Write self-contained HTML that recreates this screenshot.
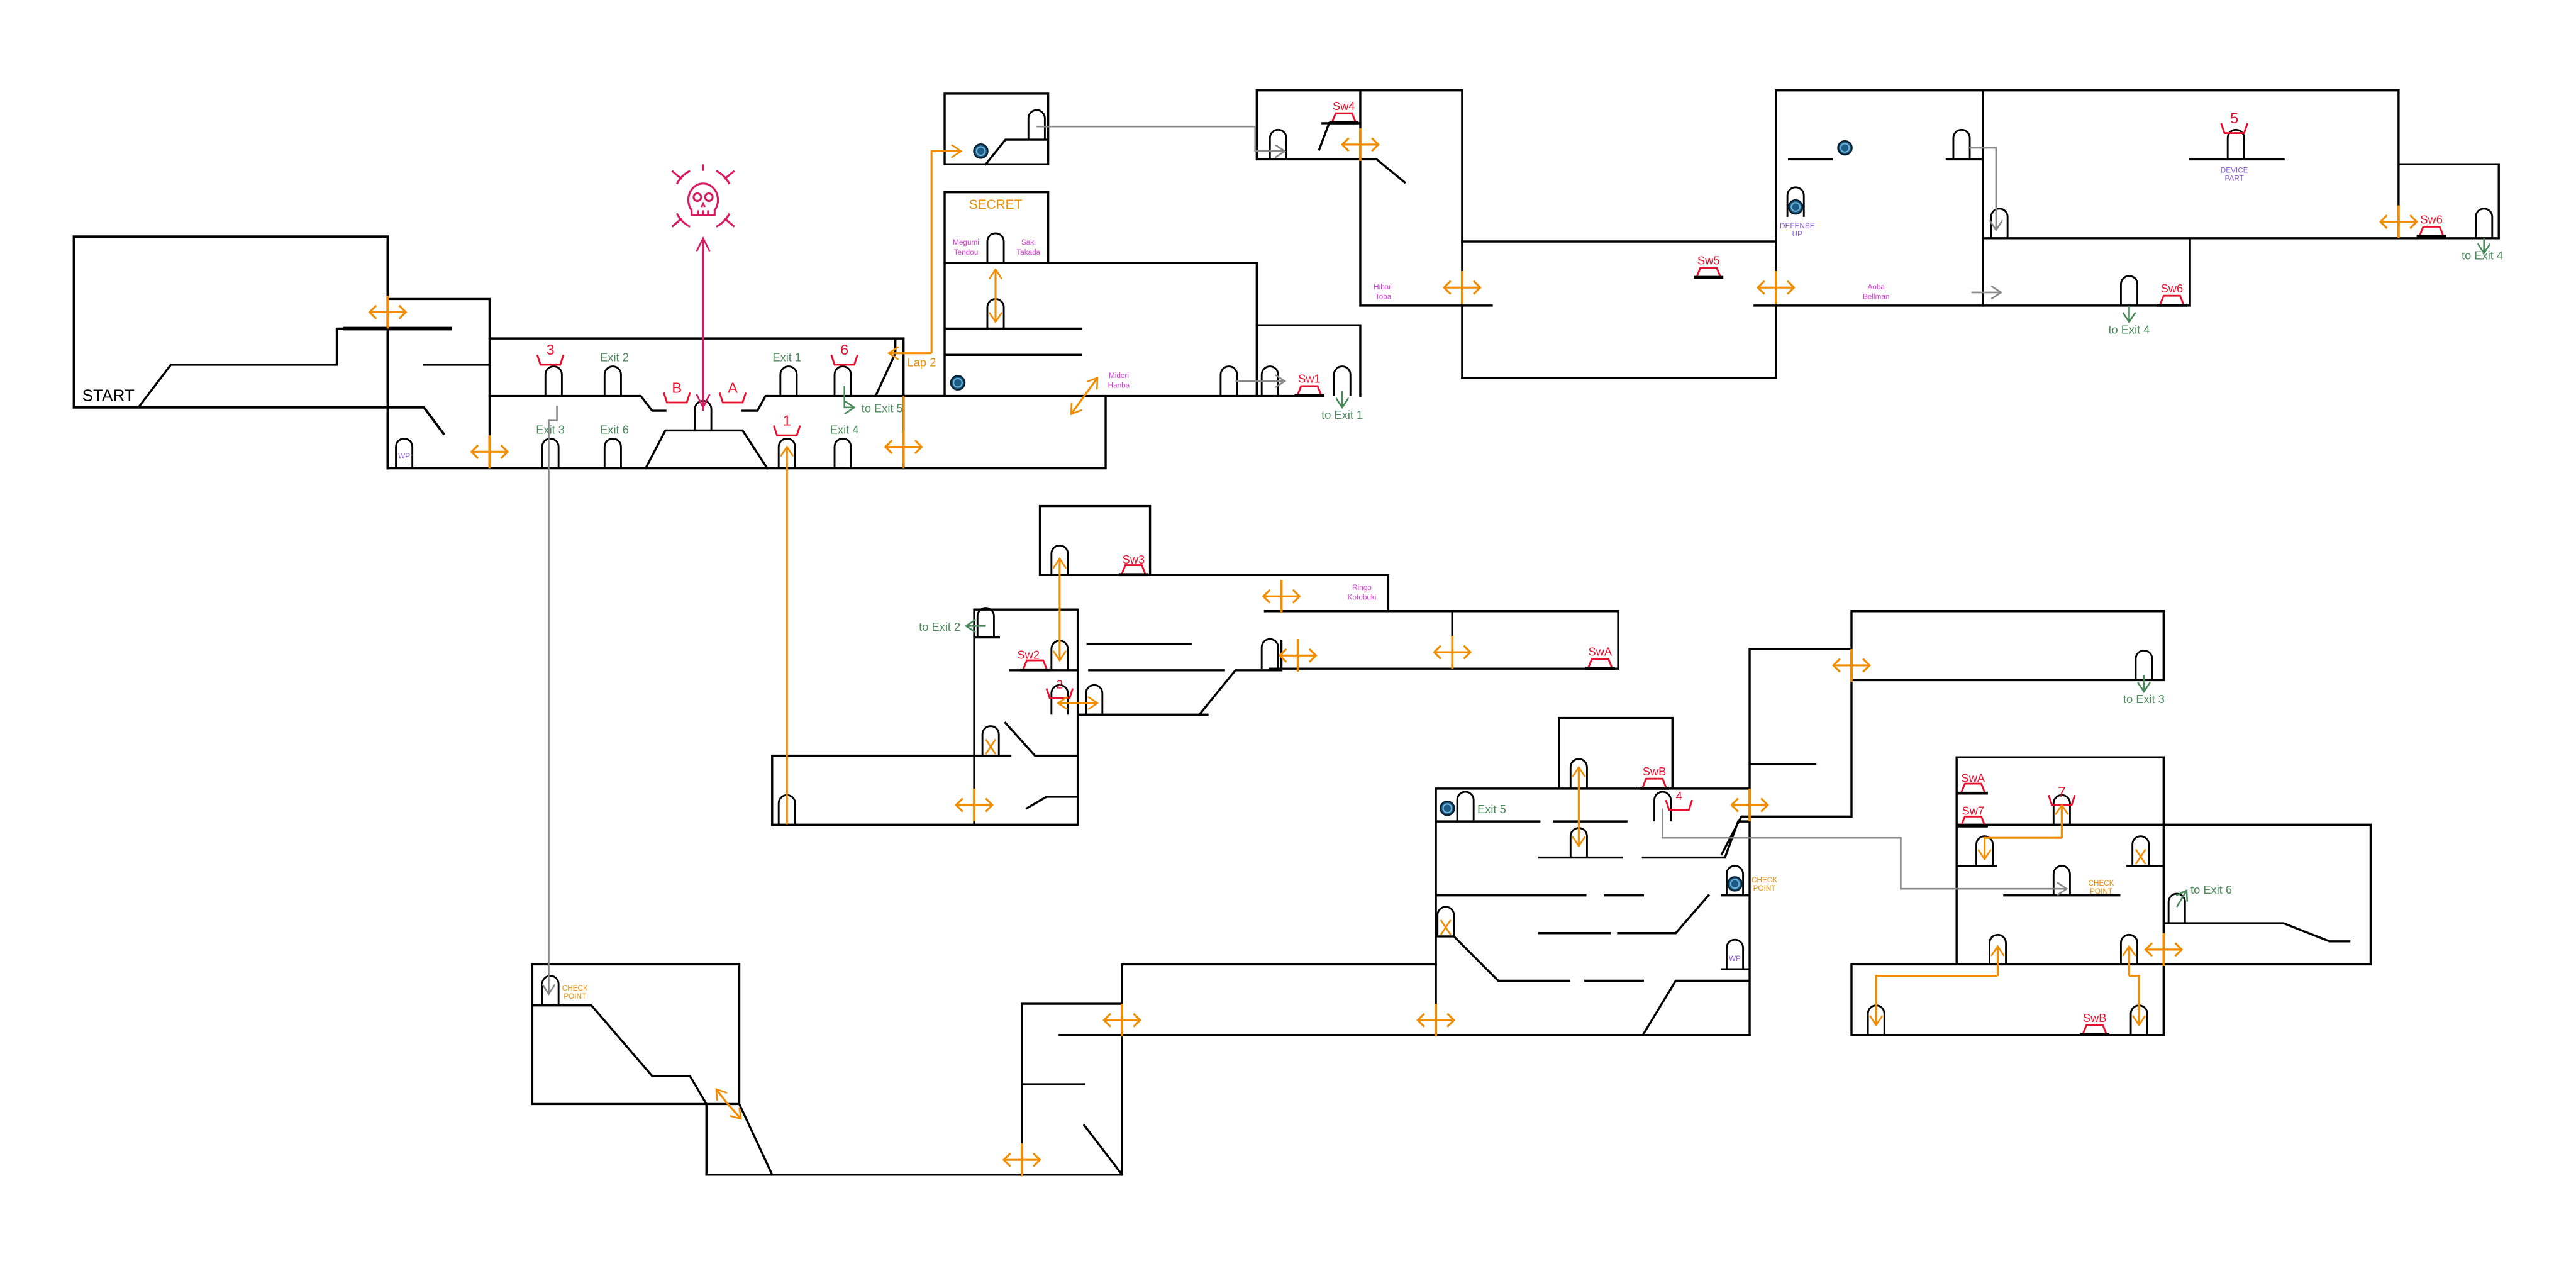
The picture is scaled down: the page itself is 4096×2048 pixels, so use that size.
<!DOCTYPE html>
<html><head><meta charset="utf-8"><style>
html,body{margin:0;padding:0;background:#fff;}
svg{display:block}
text{font-family:"Liberation Sans",sans-serif;}
</style></head><body>
<svg width="4096" height="2048" viewBox="0 0 1568 784" xmlns="http://www.w3.org/2000/svg">
<defs>
<symbol id="door" overflow="visible"><path d="M-5,0 V-13 A5,5 0 0 1 5,-13 V0" fill="none" stroke="#000" stroke-width="1.1"/></symbol>
<symbol id="sw" overflow="visible"><path d="M-7,0 L-5,-5 H5 L7,0" fill="none" stroke="#e8102e" stroke-width="1.1"/><path d="M-9,0.8 H9" stroke="#000" stroke-width="1.8"/></symbol>
<symbol id="br" overflow="visible"><path d="M-8,-7 L-6,-1 H6 L8,-7" fill="none" stroke="#e8102e" stroke-width="1.1"/></symbol>
<symbol id="orb" overflow="visible"><circle r="4.2" fill="#1d5c86" stroke="#0b2233" stroke-width="1"/><circle r="2.6" fill="none" stroke="#6fb3d9" stroke-width="0.8"/></symbol>
<symbol id="ha" overflow="visible"><path d="M-11,0 H11 M-7,-4 L-11,0 L-7,4 M7,-4 L11,0 L7,4" fill="none" stroke="#f28c00" stroke-width="1.2"/><path d="M0,-10 V10" stroke="#f28c00" stroke-width="1.4"/></symbol>
<marker id="ao" markerWidth="8" markerHeight="8" refX="6" refY="4" orient="auto" markerUnits="userSpaceOnUse"><path d="M0,0 L6,4 L0,8" fill="none" stroke="#f28c00" stroke-width="1"/></marker>
<marker id="ag" markerWidth="8" markerHeight="8" refX="6" refY="4" orient="auto" markerUnits="userSpaceOnUse"><path d="M0,0 L6,4 L0,8" fill="none" stroke="#888" stroke-width="1"/></marker>
<marker id="agr" markerWidth="8" markerHeight="8" refX="6" refY="4" orient="auto" markerUnits="userSpaceOnUse"><path d="M0,0 L6,4 L0,8" fill="none" stroke="#4a8a5a" stroke-width="1"/></marker>
<marker id="am" markerWidth="10" markerHeight="10" refX="8" refY="5" orient="auto" markerUnits="userSpaceOnUse"><path d="M0,1 L8,5 L0,9" fill="none" stroke="#d81b60" stroke-width="1"/></marker>
</defs>

<g fill="none" stroke="#000" stroke-width="1.3" stroke-linecap="square">
<path d="M45,144 H236 M45,144 V248 M45,248 H258 L270,264 M236,144 V285" stroke-width="1.5"/>
<path d="M85,247 L104,222 H205 V200 H274"/>
<path d="M210,200 H274" stroke-width="2.2"/>
<path d="M236,182 H298 V285 M236,285 H550 M258,222 H298"/>
<path d="M298,206 H550 V285 M298,241 H390 L397,250 H405 M452,250 H461 L466,241 H575 M545,206 V215 L533,241"/>
<path d="M393,285 L405,262 H452 L467,285"/>
<path d="M550,241 H805 M673,241 V285 M550,285 H673"/>
<path d="M575,160 V241 M575,160 H765 V241 M575,200 H658 M575,216 H658"/>
<path d="M575,117 H638 V160 M575,117 V160"/>
<path d="M575,57 H638 V100 H575 Z M600,100 L612,85 H638"/>
<path d="M765,198 H828 V241"/>
<path d="M765,55 H890 M765,55 V97 H838 L855,111 M805,75 H828 M803,91 L809,75 M828,55 V186 H908 M890,55 V230"/>
<path d="M890,147 H1081 M890,230 H1081 V55 H1207 V186 M1068,186 H1207 M1089,97 H1115 M1185,97 H1207"/>
<path d="M1207,55 H1460 V145 H1207 M1333,97 H1390 M1460,100 H1521 V145 H1460 M1333,145 V186 H1207"/>
<path d="M633,308 H700 V350 H633 Z M656,350 H845 V371 M770,372 H985 V407 H773 M884,372 V407 M662,392 H725 M663,408 H745 M730,435 L752,408 H780 V390"/>
<path d="M593,371 H656 M593,371 V502 M656,371 V502 M593,388 H608 M615,408 H656 M656,435 H735 M593,460 H615 M612,440 L630,460 H656 M625,492 L637,485 H656 M470,460 H593 M470,460 V502 H656"/>
<path d="M949,437 H1018 V480 M949,437 V480 M874,480 H1065 M874,480 V630 M874,500 H937 M946,500 H990 M937,522 H987 M1000,522 H1050 L1058,500 H1065 M874,545 H965 M977,545 H1000 M1048,545 H1065 M937,568 H980 M985,568 H1020 L1040,545 M874,570 H885 L912,597 H955 M965,597 H1000 M1048,590 H1065 M1000,630 L1020,597 H1065 M1065,395 V630 M1065,395 H1127 V497 M1048,520 L1060,497 H1127 M1065,465 H1105 M1127,372 H1317 V414 H1127 V372"/>
<path d="M1191,461 H1317 V630 M1191,461 V587 M1191,502 H1443 V587 H1127 M1191,527 H1215 M1295,527 H1317 M1220,545 H1290 M1317,562 H1390 L1418,573 H1430 M1127,587 V630 H1317 M1191,483 H1209"/>
<path d="M324,587 H450 V672 M324,587 V672 H450 L470,715 M324,612 H360 L397,655 H420 L430,672 V715 H683 V587 H874 M683,715 L660,685 M622,611 H683 M622,611 V715 M622,660 H660 M645,630 H1065"/>
</g>

<g>
<use href="#door" x="246" y="285"/>
<use href="#door" x="337" y="241"/><use href="#door" x="373" y="241"/><use href="#door" x="480" y="241"/><use href="#door" x="513" y="241"/>
<use href="#door" x="428" y="262"/>
<use href="#door" x="335" y="285"/><use href="#door" x="373" y="285"/><use href="#door" x="479" y="285"/><use href="#door" x="513" y="285"/>
<use href="#door" x="631" y="85"/><use href="#door" x="606" y="160"/><use href="#door" x="606" y="200"/>
<use href="#door" x="748" y="241"/><use href="#door" x="773" y="241"/><use href="#door" x="817" y="241"/>
<use href="#door" x="778" y="97"/><use href="#door" x="1093" y="132"/><use href="#door" x="1194" y="97"/><use href="#door" x="1217" y="145"/>
<use href="#door" x="1361" y="97"/><use href="#door" x="1512" y="145"/><use href="#door" x="1296" y="186"/>
<use href="#door" x="645" y="350"/><use href="#door" x="600" y="388"/><use href="#door" x="645" y="408"/><use href="#door" x="773" y="407"/>
<use href="#door" x="645" y="435"/><use href="#door" x="666" y="435"/><use href="#door" x="603" y="460"/><use href="#door" x="479" y="502"/>
<use href="#door" x="961" y="480"/><use href="#door" x="892" y="500"/><use href="#door" x="1012" y="500"/><use href="#door" x="961" y="522"/>
<use href="#door" x="1056" y="545"/><use href="#door" x="880" y="570"/><use href="#door" x="1056" y="590"/><use href="#door" x="1305" y="414"/>
<use href="#door" x="1255" y="502"/><use href="#door" x="1208" y="527"/><use href="#door" x="1303" y="527"/><use href="#door" x="1255" y="545"/>
<use href="#door" x="1325" y="562"/><use href="#door" x="1216" y="587"/><use href="#door" x="1296" y="587"/><use href="#door" x="1142" y="630"/><use href="#door" x="1302" y="630"/>
<use href="#door" x="335" y="612"/>
</g>
<g stroke="#f28c00" stroke-width="1" fill="none">
<path d="M600,450 L606,459 M606,450 L600,459"/><path d="M877,560 L883,569 M883,560 L877,569"/><path d="M1300,517 L1306,526 M1306,517 L1300,526"/>
</g>
<use href="#orb" x="597" y="92"/><use href="#orb" x="583" y="233"/><use href="#orb" x="1123" y="90"/><use href="#orb" x="1093" y="126"/>
<use href="#orb" x="881" y="492"/><use href="#orb" x="1056" y="538"/>
<use href="#sw" x="818" y="74"/><use href="#sw" x="797" y="240"/><use href="#sw" x="1040" y="168"/><use href="#sw" x="1480" y="143"/><use href="#sw" x="1322" y="185"/>
<use href="#sw" x="690" y="349"/><use href="#sw" x="630" y="407"/><use href="#sw" x="974" y="406"/><use href="#sw" x="1007" y="479"/>
<use href="#sw" x="1201" y="482"/><use href="#sw" x="1201" y="502"/><use href="#sw" x="1275" y="629"/>
<use href="#br" x="335" y="223"/><use href="#br" x="514" y="223"/><use href="#br" x="412" y="246"/><use href="#br" x="446" y="246"/><use href="#br" x="479" y="266"/>
<use href="#br" x="1360" y="82"/><use href="#br" x="645" y="426"/><use href="#br" x="1022" y="494"/><use href="#br" x="1255" y="491"/>

<use href="#ha" x="236" y="190"/><use href="#ha" x="298" y="275"/><use href="#ha" x="550" y="272"/><use href="#ha" x="828" y="88"/>
<use href="#ha" x="890" y="175"/><use href="#ha" x="1081" y="175"/><use href="#ha" x="1460" y="135"/><use href="#ha" x="780" y="363"/>
<use href="#ha" x="790" y="399"/><use href="#ha" x="884" y="397"/><use href="#ha" x="593" y="490"/><use href="#ha" x="1065" y="490"/>
<use href="#ha" x="1127" y="405"/><use href="#ha" x="1317" y="578"/><use href="#ha" x="683" y="621"/><use href="#ha" x="874" y="621"/><use href="#ha" x="622" y="706"/>
<g fill="none" stroke="#f28c00" stroke-width="1.2">
<path d="M567,215 H541" marker-end="url(#ao)"/><path d="M567,215 V92 H585" marker-end="url(#ao)"/>
<path d="M479,502 V272" marker-end="url(#ao)"/>
<path d="M606,178 V164" marker-end="url(#ao)"/><path d="M606,178 V196" marker-end="url(#ao)"/>
<path d="M645,370 V340" marker-end="url(#ao)"/><path d="M645,370 V402" marker-end="url(#ao)"/>
<path d="M655,428 H644" marker-end="url(#ao)"/><path d="M655,428 H668" marker-end="url(#ao)"/>
<path d="M961,490 V467" marker-end="url(#ao)"/><path d="M961,490 V515" marker-end="url(#ao)"/>
<path d="M1255,510 V490" marker-end="url(#ao)"/><path d="M1255,510 H1208 V523" marker-end="url(#ao)"/>
<path d="M1216,594 V576" marker-end="url(#ao)"/><path d="M1216,594 H1142 V624" marker-end="url(#ao)"/>
<path d="M1296,594 V576" marker-end="url(#ao)"/><path d="M1296,594 H1302 V624" marker-end="url(#ao)"/>
<path d="M660,241 L668,230" marker-end="url(#ao)"/><path d="M660,241 L652,252" marker-end="url(#ao)"/>
<path d="M443,672 L451,681" marker-end="url(#ao)"/><path d="M443,672 L436,663" marker-end="url(#ao)"/>
</g>
<path d="M550,241 V285" stroke="#f28c00" stroke-width="1.2" fill="none"/>
<g fill="none" stroke="#888" stroke-width="1">
<path d="M631,77 H764 V92 H782" marker-end="url(#ag)"/>
<path d="M752,232 H782" marker-end="url(#ag)"/>
<path d="M1200,178 H1218" marker-end="url(#ag)"/>
<path d="M1198,90 H1215 V140" marker-end="url(#ag)"/>
<path d="M339,247 V256 H334 V605" marker-end="url(#ag)"/>
<path d="M1012,492 V510 H1157 V541 H1258" marker-end="url(#ag)"/>
</g>
<g fill="none" stroke="#4a8a5a" stroke-width="1">
<path d="M514,235 V248 H520" marker-end="url(#agr)"/>
<path d="M817,238 V248" marker-end="url(#agr)"/>
<path d="M1512,145 V154" marker-end="url(#agr)"/>
<path d="M1296,186 V196" marker-end="url(#agr)"/>
<path d="M1305,411 V421" marker-end="url(#agr)"/>
<path d="M600,381 H588" marker-end="url(#agr)"/>
<path d="M1325,552 L1331,542" marker-end="url(#agr)"/>
</g>
<g stroke="#d81b60" stroke-width="1.2" fill="none">
<path d="M428,250 V145" marker-end="url(#am)"/>
<path d="M428,150 V248" marker-end="url(#am)"/>
<path d="M421,128 V131 H435 V128 A9,10 0 1 0 421,128 Z"/>
<circle cx="424.5" cy="120" r="2.3"/><circle cx="431.5" cy="120" r="2.3"/><path d="M427,126 L428,124 L429,126 M425,131 V128 M428,131 V128 M431,131 V128"/>
<path d="M412,112 A18,18 0 0 1 420,104 M444,112 A18,18 0 0 0 436,104 M412,130 A18,18 0 0 0 420,138 M444,130 A18,18 0 0 1 436,138 M409,104 L415,109 M447,104 L441,109 M409,138 L415,133 M447,138 L441,133 M428,100 V104"/>
</g>

<text x="50" y="244" font-size="10" fill="#000">START</text>
<g font-size="7" fill="#e8102e" text-anchor="middle">
<text x="335" y="216" font-size="9">3</text><text x="514" y="216" font-size="9">6</text><text x="412" y="239" font-size="9">B</text><text x="446" y="239" font-size="9">A</text><text x="479" y="259" font-size="9">1</text>
<text x="818" y="67">Sw4</text><text x="797" y="233">Sw1</text><text x="1040" y="161">Sw5</text><text x="1360" y="75" font-size="9">5</text><text x="1480" y="136">Sw6</text><text x="1322" y="178">Sw6</text>
<text x="690" y="343">Sw3</text><text x="626" y="401">Sw2</text><text x="645" y="419">2</text><text x="974" y="399">SwA</text><text x="1007" y="472">SwB</text><text x="1022" y="487">4</text>
<text x="1201" y="476">SwA</text><text x="1201" y="496">Sw7</text><text x="1255" y="485" font-size="9">7</text><text x="1275" y="622">SwB</text>
</g>
<g font-size="7" fill="#4a8a5a" text-anchor="middle">
<text x="374" y="220">Exit 2</text><text x="479" y="220">Exit 1</text><text x="335" y="264">Exit 3</text><text x="374" y="264">Exit 6</text><text x="514" y="264">Exit 4</text>
<text x="537" y="251">to Exit 5</text><text x="817" y="255">to Exit 1</text><text x="1511" y="158">to Exit 4</text><text x="1296" y="203">to Exit 4</text>
<text x="572" y="384">to Exit 2</text><text x="908" y="495">Exit 5</text><text x="1305" y="428">to Exit 3</text><text x="1346" y="544">to Exit 6</text>
</g>
<g font-size="7" fill="#e8900a" text-anchor="middle">
<text x="561" y="223">Lap 2</text><text x="606" y="127" font-size="8">SECRET</text>
</g>
<g font-size="4.5" fill="#e8900a" text-anchor="middle">
<text x="350" y="603">CHECK</text><text x="350" y="608">POINT</text>
<text x="1074" y="537">CHECK</text><text x="1074" y="542">POINT</text>
<text x="1279" y="539">CHECK</text><text x="1279" y="544">POINT</text>
</g>
<g font-size="4.5" fill="#d83ad8" text-anchor="middle">
<text x="588" y="149">Megumi</text><text x="588" y="155">Tendou</text><text x="626" y="149">Saki</text><text x="626" y="155">Takada</text>
<text x="681" y="230">Midori</text><text x="681" y="236">Hanba</text><text x="842" y="176">Hibari</text><text x="842" y="182">Toba</text>
<text x="1142" y="176">Aoba</text><text x="1142" y="182">Bellman</text><text x="829" y="359">Ringo</text><text x="829" y="365">Kotobuki</text>
</g>
<g font-size="4.5" fill="#8a5ad8" text-anchor="middle">
<text x="246" y="279">WP</text><text x="1056" y="585">WP</text>
<text x="1094" y="139">DEFENSE</text><text x="1094" y="144">UP</text><text x="1360" y="105">DEVICE</text><text x="1360" y="110">PART</text>
</g>
</svg>
</body></html>
